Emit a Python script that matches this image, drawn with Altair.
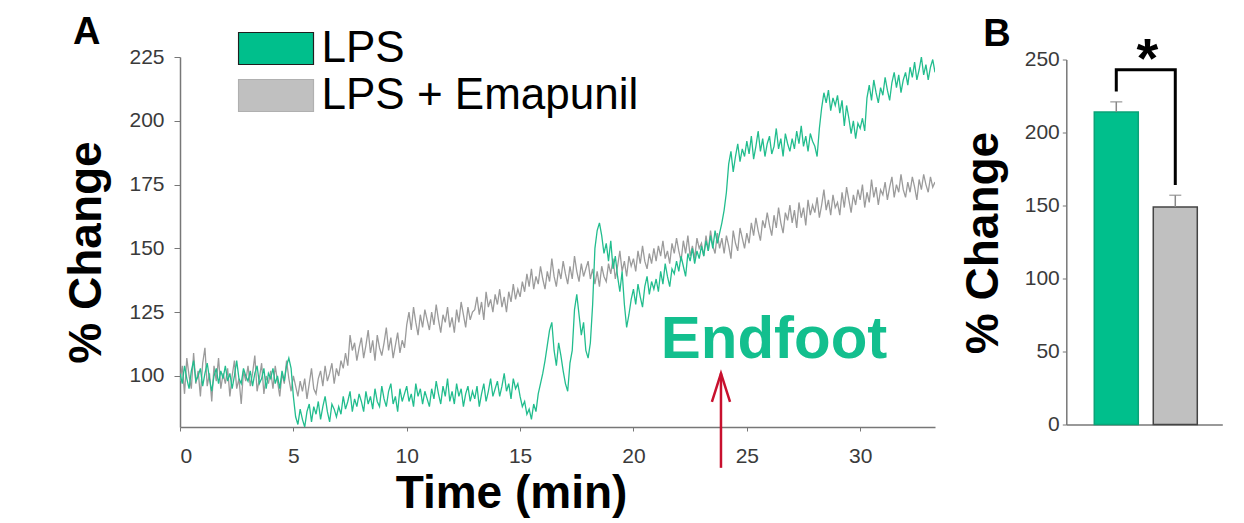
import altair as alt
import pandas as pd

# ---------------- Panel A data (0.1 min apart) ----------------
lps = [
    101, 97, 104, 99, 95, 102, 106, 98, 100, 103,
    96, 101, 105, 99, 94, 100, 103, 97, 102, 99,
    104, 98, 101, 95, 100, 106, 99, 97, 103, 100,
    98, 102, 96, 101, 104, 97, 99, 103, 95, 101,
    99, 103, 97, 100, 95, 102, 98, 104, 107, 103,
    92, 84, 81, 87, 83, 80, 86, 89, 82, 88,
    85, 90, 83, 88, 92, 86, 82, 89, 87, 84,
    88, 85, 92, 87, 90, 94, 86, 91, 88, 93,
    90, 86, 94, 89, 92, 87, 95, 90, 88, 96,
    91, 88, 94, 97, 89, 92, 86, 95, 90, 93,
    96, 90, 93, 88, 97, 92, 95, 89, 94, 91,
    88, 95, 91, 98, 93, 89, 96, 92, 99, 90,
    94, 89, 97, 92, 95, 88, 93, 96, 90, 94,
    91, 96, 88, 93, 97, 90, 94, 99, 92, 95,
    98, 92, 96, 101, 94, 97, 91, 99, 95, 97,
    92, 88, 90, 85, 87, 83, 89, 86, 93, 97,
    101, 106, 112, 118, 121, 110, 104, 113, 108, 102,
    97, 94, 105, 110, 126, 132, 124, 116, 121, 110,
    107, 113, 128, 150, 157, 160, 155, 148, 152, 145,
    153, 142, 147, 139, 133, 141, 128, 119, 124, 130,
    134, 128, 136, 131, 127, 135, 139, 132, 137, 134,
    138, 133, 141, 136, 144, 139, 135, 142, 140, 145,
    141, 147, 143, 139, 148, 145, 150, 144, 149, 146,
    151, 147, 153, 149, 155, 150, 157, 152, 156, 160,
    165, 172, 183, 188, 180, 186, 191, 184, 189, 186,
    192, 187, 194, 185, 190, 196, 188, 193, 186, 191,
    194, 187, 190, 197, 189, 193, 186, 195, 191, 188,
    193, 189, 196, 191, 198, 190, 194, 188, 195, 192,
    190, 186, 197, 205, 211, 207, 212, 204, 209, 206,
    210, 203, 208, 198, 206, 201, 195, 200, 193, 199,
    197, 201, 196, 209, 214, 208, 216, 211, 207, 213,
    210, 217, 212, 208, 215, 219, 213, 218, 211, 216,
    219, 214, 221, 217, 223, 216, 220, 225, 218, 222,
    216, 221, 224, 219,
]
emap = [
    98, 104, 93, 107, 100, 95, 109, 97, 102, 92,
    105, 111, 96, 101, 90, 104, 98, 107, 95, 101,
    97, 103, 92, 100, 106, 95, 99, 89, 102, 98,
    104, 96, 101, 108, 94, 99, 105, 93, 100, 97,
    102, 95, 104, 98, 92, 101, 97, 106, 99, 94,
    100, 96, 92, 98, 94, 99, 91, 97, 103, 95,
    93, 99, 102, 96, 104, 98, 101, 105, 97, 103,
    100, 106, 103, 109, 104, 116, 110, 113, 106, 111,
    115, 107, 112, 118, 109, 114, 106, 116, 111, 108,
    113, 119, 110, 115, 107, 112, 117, 109, 114, 111,
    120, 125, 118, 127, 121, 116, 124, 119, 126, 122,
    118, 125, 120, 128, 122, 117, 124, 121, 127, 119,
    123, 117, 126, 121, 129, 124, 119, 127, 122, 125,
    126, 131, 124, 129, 122, 133, 127, 130, 125, 132,
    128, 134, 127, 131, 125, 133, 129, 136, 130, 134,
    131, 137, 133, 140, 135, 142, 134, 139, 136, 143,
    138, 134, 141, 137, 146, 139, 135, 142, 138, 145,
    140, 136, 143, 138, 147, 141, 137, 144, 139, 142,
    145, 138, 142, 136, 141, 135, 143, 139, 137, 144,
    140, 146, 138, 143, 149, 141, 145, 139, 147, 143,
    146, 141, 149, 144, 151, 145, 142, 148, 144, 150,
    145, 151, 147, 153, 146, 149, 144, 152, 148, 154,
    149, 145, 153, 148, 155, 147, 151, 146, 154, 150,
    152, 147, 155, 149, 157, 151, 148, 156, 150, 154,
    148, 155, 151, 146, 157, 152, 149, 158, 154, 150,
    156, 152, 160, 155, 162, 157, 153, 161, 158, 164,
    159, 155, 163, 158, 166, 160, 156, 164, 161, 167,
    160, 165, 158, 168, 162, 166, 159, 169, 163, 167,
    164, 170, 162, 167, 173, 165, 169, 163, 171, 166,
    168, 163, 172, 166, 174, 169, 164, 171, 167, 173,
    169, 175, 166, 172, 168, 177, 170, 174, 167, 173,
    171, 176, 169, 174, 178, 170, 175, 172, 179, 173,
    170, 176, 172, 178, 174, 169, 177, 173, 179, 175,
    172, 178, 174, 176,
]
time_min = [round(i * 0.1, 1) for i in range(len(lps))]
series_names = ["LPS", "LPS + Emapunil"]
x_ticks_a = [0, 5, 10, 15, 20, 25, 30]
y_ticks_a = [100, 125, 150, 175, 200, 225]

endfoot_label = ["Endfoot"]
endfoot_pos = [26.2, 107]          # (min, % change)
arrow_t = [23.86]
arrow_y = [101, 64]                # tip, tail
arrow_head_t = [23.46, 23.86, 24.26]
arrow_head_y = [89.8, 101, 89.8]

# ---------------- Panel B data ----------------
groups = ["LPS", "LPS + Emapunil"]
means = [214, 149]
sems = [7, 8]
y_ticks_b = [0, 50, 100, 150, 200, 250]
bracket_grp = ["LPS", "LPS", "LPS + Emapunil", "LPS + Emapunil"]
bracket_val = [228, 243, 243, 164]
star_val = [238]

GREEN_LINE = "#22BD8E"
GREEN_BAR = "#00BF8C"
GRAY_LINE = "#9B9B9B"
GRAY_BAR = "#C0C0C0"
FONT = "Liberation Sans"

trace_df = pd.DataFrame({
    "t": time_min + time_min,
    "v": lps + emap,
    "series": [series_names[0]] * len(lps) + [series_names[1]] * len(emap),
})
legend_df = pd.DataFrame({"series": series_names, "t": [0, 0], "v": [100, 100]})

x_a = alt.X("t:Q", scale=alt.Scale(domain=[0, 33.3], nice=False, zero=False),
            axis=alt.Axis(values=x_ticks_a, title="Time (min)", titleFontSize=46,
                          titleFontWeight="bold", titleColor="black", titleX=331, titleY=80,
                          titleAlign="center", titleBaseline="alphabetic",
                          labelFontSize=21, labelColor="#3a3a3a", labelPadding=14,
                          tickSize=4, tickColor="#777", domainColor="#777", domainWidth=1.5,
                          grid=False))
y_a = alt.Y("v:Q", scale=alt.Scale(domain=[80, 225], nice=False, zero=False),
            axis=alt.Axis(values=y_ticks_a, title="% Change", titleFontSize=46,
                          titleFontWeight="bold", titleColor="black", titleX=-80, titleY=195,
                          titleAngle=270, titleAlign="center", titleBaseline="alphabetic",
                          labelFontSize=21, labelColor="#3a3a3a", labelPadding=10,
                          tickSize=6, tickColor="#777", domainColor="#777", domainWidth=1.5,
                          grid=False))

base_a = alt.Chart(trace_df)
gray_line = base_a.transform_filter(alt.datum.series == series_names[1]).mark_line(
    color=GRAY_LINE, strokeWidth=1.3, clip=True).encode(x=x_a, y=y_a)
green_line = base_a.transform_filter(alt.datum.series == series_names[0]).mark_line(
    color=GREEN_LINE, strokeWidth=1.3, clip=True).encode(x="t:Q", y="v:Q")

leg_kw = dict(title=None, orient="none", legendX=57.5, legendY=-30.5,
              symbolType="M-1,-0.427L1,-0.427L1,0.427L-1,0.427Z",
              symbolSize=5625, symbolOpacity=1, symbolStrokeWidth=1.2,
              labelFontSize=44, labelColor="black", labelFont=FONT,
              labelOffset=7, rowPadding=3, padding=0, labelLimit=600, clipHeight=44)
legend_layer = alt.Chart(legend_df).mark_point(filled=True, opacity=0).encode(
    x="t:Q", y="v:Q",
    fill=alt.Fill("series:N", scale=alt.Scale(domain=series_names, range=[GREEN_BAR, GRAY_BAR]),
                  legend=alt.Legend(**leg_kw)),
    stroke=alt.Stroke("series:N", scale=alt.Scale(domain=series_names, range=["#1f1f1f", "#b0b0b0"]),
                      legend=alt.Legend(**leg_kw)),
)

endfoot = alt.Chart(pd.DataFrame({"t": [endfoot_pos[0]], "v": [endfoot_pos[1]], "label": endfoot_label})).mark_text(
    fontSize=60, fontWeight="bold", color="#13BF8E", font=FONT, align="center", baseline="alphabetic"
).encode(x="t:Q", y="v:Q", text="label:N")

arrow_shaft = alt.Chart(pd.DataFrame({"t": arrow_t, "y1": [arrow_y[0]], "y2": [arrow_y[1]]})).mark_rule(
    color="#C8102E", strokeWidth=2.5).encode(x="t:Q", y="y1:Q", y2="y2:Q")
arrow_head = alt.Chart(pd.DataFrame({"t": arrow_head_t, "v": arrow_head_y, "o": [0, 1, 2]})).mark_line(
    color="#C8102E", strokeWidth=2.5).encode(x="t:Q", y="v:Q", order="o:Q")

label_a = alt.Chart(pd.DataFrame({"k": ["A"]})).mark_text(
    fontSize=38, fontWeight="bold", color="black", font=FONT, align="left", baseline="alphabetic"
).encode(x=alt.value(-107), y=alt.value(-13), text="k:N")

panel_a = alt.layer(gray_line, green_line, legend_layer, endfoot, arrow_shaft, arrow_head, label_a).properties(
    width=755, height=370)

# ---------------- Panel B ----------------
bar_df = pd.DataFrame({"grp": groups, "mean": means, "sem": sems})
bar_df["upper"] = bar_df["mean"] + bar_df["sem"]

x_b = alt.X("grp:N", sort=groups,
            scale=alt.Scale(domain=groups, paddingInner=0.254, paddingOuter=0.449, align=0.528),
            axis=alt.Axis(labels=False, ticks=False, title=None, domainColor="#777", domainWidth=1.5))
y_b = alt.Y("mean:Q", scale=alt.Scale(domain=[0, 250], nice=False),
            axis=alt.Axis(values=y_ticks_b, title="% Change", titleFontSize=46,
                          titleFontWeight="bold", titleColor="black", titleX=-69, titleY=183,
                          titleAngle=270, titleAlign="center", titleBaseline="alphabetic",
                          labelFontSize=21, labelColor="#3a3a3a", labelPadding=3,
                          tickSize=4, tickColor="#777", domainColor="#777", domainWidth=1.5,
                          grid=False))

base_b = alt.Chart(bar_df)
bars = base_b.mark_bar(strokeWidth=1.5).encode(
    x=x_b, y=y_b,
    color=alt.Color("grp:N", scale=alt.Scale(domain=groups, range=[GREEN_BAR, GRAY_BAR]), legend=None),
    stroke=alt.condition(alt.datum.grp == groups[0], alt.value("#0aa377"), alt.value("#444444")),
)
err_rule = base_b.mark_rule(color="#888", strokeWidth=1.5).encode(x="grp:N", y="mean:Q", y2="upper:Q")
err_cap = base_b.mark_tick(color="#888", thickness=1.5, size=12, orient="horizontal").encode(
    x="grp:N", y="upper:Q")

bracket = alt.Chart(pd.DataFrame({"grp": bracket_grp, "mean": bracket_val, "o": [0, 1, 2, 3]})).mark_line(
    color="black", strokeWidth=3).encode(x="grp:N", y="mean:Q", order="o:Q")
star = alt.Chart(pd.DataFrame({"grp": [groups[0]], "mean": star_val, "s": ["*"]})).mark_text(
    fontSize=56, fontWeight="bold", color="black", font=FONT, align="center", baseline="alphabetic", dx=31
).encode(x="grp:N", y="mean:Q", text="s:N")
label_b = alt.Chart(pd.DataFrame({"k": ["B"]})).mark_text(
    fontSize=38, fontWeight="bold", color="black", font=FONT, align="left", baseline="alphabetic"
).encode(x=alt.value(-83), y=alt.value(-13.5), text="k:N")

panel_b = alt.layer(bars, err_rule, err_cap, bracket, star, label_b).properties(width=156, height=365)

chart = alt.hconcat(panel_a, panel_b, spacing=131.3, bounds="flush", center=True).resolve_scale(
    color="independent", fill="independent", stroke="independent"
).configure_view(stroke=None).configure_axis(
    labelFont=FONT, titleFont=FONT
).configure_text(font=FONT).properties(
    padding={"left": 55, "top": 6, "right": 5, "bottom": 5}, background="white"
)

chart.save("out.html", embed_options={"renderer": "svg", "actions": False})
